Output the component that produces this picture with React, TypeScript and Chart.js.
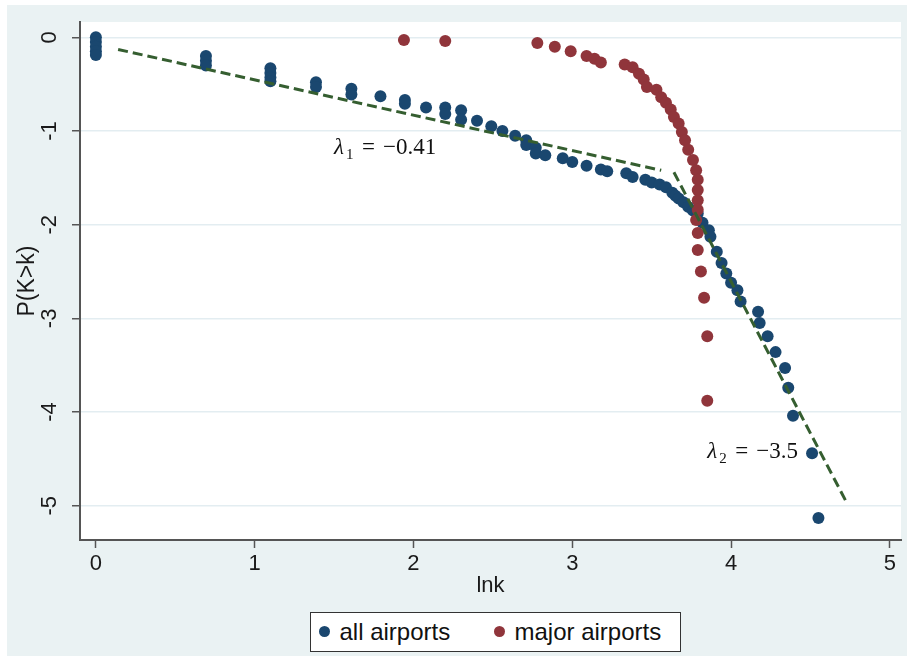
import React, { useEffect, useRef } from 'react';
import { Chart, registerables } from 'chart.js';

Chart.register(...registerables);

// ---- data ----
const seriesNames = ['all airports', 'major airports'];

const allAirportsX = [
  0, 0, 0, 0, 0, 0.693, 0.693, 0.693, 1.099, 1.099, 1.099, 1.099, 1.386, 1.386, 1.609, 1.609, 1.792, 1.946, 1.946, 2.079,
  2.2, 2.2, 2.3, 2.3, 2.4, 2.49, 2.56, 2.64, 2.71, 2.71, 2.77, 2.77,
  2.83, 2.94, 3.0, 3.09, 3.18, 3.22, 3.34, 3.38, 3.46, 3.5,
  3.55, 3.59, 3.63, 3.65, 3.67, 3.7, 3.73, 3.76, 3.79, 3.82, 3.86,
  3.87, 3.91, 3.94, 3.97, 4.0, 4.04, 4.06,
  4.17, 4.18, 4.23, 4.28, 4.34, 4.36, 4.39, 4.51, 4.55,
];
const allAirportsY = [
  0, -0.05, -0.1, -0.15, -0.19, -0.2, -0.25, -0.3, -0.33, -0.38, -0.43, -0.47, -0.48, -0.53, -0.55, -0.61, -0.63, -0.67, -0.71, -0.75,
  -0.75, -0.82, -0.78, -0.88, -0.89, -0.95, -1.0, -1.05, -1.1, -1.15, -1.18, -1.24,
  -1.26, -1.29, -1.33, -1.37, -1.41, -1.43, -1.45, -1.49, -1.52, -1.55,
  -1.57, -1.6, -1.66, -1.69, -1.72, -1.76, -1.81, -1.85, -1.88, -1.98, -2.06,
  -2.13, -2.29, -2.41, -2.52, -2.62, -2.7, -2.82,
  -2.93, -3.05, -3.19, -3.36, -3.53, -3.74, -4.04, -4.44, -5.13,
];

const majorAirportsX = [
  1.94, 2.2, 2.78, 2.89, 2.99, 3.09, 3.14, 3.18, 3.33, 3.38,
  3.42, 3.45, 3.47, 3.53, 3.56, 3.59, 3.62, 3.64, 3.67, 3.69,
  3.71, 3.73, 3.76, 3.78, 3.79, 3.79, 3.79, 3.79, 3.78, 3.79,
  3.79, 3.81, 3.83, 3.85, 3.85,
];
const majorAirportsY = [
  -0.03, -0.04, -0.06, -0.1, -0.15, -0.2, -0.23, -0.27, -0.29, -0.32,
  -0.39, -0.45, -0.53, -0.56, -0.64, -0.7, -0.77, -0.85, -0.92, -1.01,
  -1.1, -1.2, -1.31, -1.42, -1.52, -1.63, -1.74, -1.84, -1.95, -2.09,
  -2.27, -2.5, -2.78, -3.19, -3.88,
];

const fit1X = [0.14, 3.56];
const fit1Y = [-0.13, -1.42];
const fit2X = [3.64, 4.72];
const fit2Y = [-1.44, -4.94];

const annotationTexts = [
  { sym: 'λ', sub: '1', value: '−0.41', x: 1.5, y: -1.245 },
  { sym: 'λ', sub: '2', value: '−3.5', x: 3.85, y: -4.49 },
];

const xTitle = 'lnk';
const yTitle = 'P(K>k)';

// ---- styles ----
const BLUE = '#1a476f';
const RED = '#90353b';
const GREEN = '#355e30';
const AXIS = '#555555';
const GRID = '#e3edf1';
const OUTER_BG = '#eaf2f3';
const TEXT = '#1a1a1a';
const SANS = '"Liberation Sans", Arial, sans-serif';
const SERIF = '"Liberation Serif", "Times New Roman", serif';

const toPoints = (xs: number[], ys: number[]) => xs.map((x, i) => ({ x, y: ys[i] }));

export default function App() {
  const canvasRef = useRef<HTMLCanvasElement>(null);

  useEffect(() => {
    const canvas = canvasRef.current;
    if (!canvas) return;
    Chart.defaults.font.family = SANS;
    Chart.defaults.color = TEXT;

    const bgPlugin = {
      id: 'bgPlugin',
      beforeDraw(chart: any) {
        const { ctx, width, height, chartArea } = chart;
        ctx.save();
        ctx.fillStyle = '#ffffff';
        ctx.fillRect(0, 0, width, height);
        ctx.fillStyle = OUTER_BG;
        ctx.fillRect(7, 5, width - 7, height - 5);
        ctx.fillStyle = '#ffffff';
        ctx.fillRect(chartArea.left, chartArea.top, chartArea.right - chartArea.left, chartArea.bottom - chartArea.top);
        ctx.restore();
      },
    };

    const annotPlugin = {
      id: 'annotPlugin',
      afterDatasetsDraw(chart: any) {
        const { ctx, scales } = chart;
        annotationTexts.forEach((a) => {
          const px = scales.x.getPixelForValue(a.x);
          const py = scales.y.getPixelForValue(a.y);
          ctx.save();
          ctx.fillStyle = '#111111';
          ctx.textAlign = 'left';
          ctx.textBaseline = 'alphabetic';
          ctx.font = `italic 23px ${SERIF}`;
          ctx.fillText(a.sym, px, py);
          ctx.font = `15px ${SERIF}`;
          ctx.fillText(a.sub, px + 12, py + 5);
          ctx.font = `23px ${SERIF}`;
          ctx.fillText('=', px + 28, py);
          ctx.fillText(a.value, px + 49, py);
          ctx.restore();
        });
      },
    };

    const chart = new Chart(canvas, {
      type: 'scatter',
      data: {
        datasets: [
          {
            label: 'fit1',
            data: toPoints(fit1X, fit1Y),
            showLine: true,
            pointRadius: 0,
            borderColor: GREEN,
            borderWidth: 3,
            borderDash: [10, 5],
            order: 0,
          },
          {
            label: 'fit2',
            data: toPoints(fit2X, fit2Y),
            showLine: true,
            pointRadius: 0,
            borderColor: GREEN,
            borderWidth: 3,
            borderDash: [10, 5],
            order: 0,
          },
          {
            label: seriesNames[1],
            data: toPoints(majorAirportsX, majorAirportsY),
            backgroundColor: RED,
            borderColor: RED,
            borderWidth: 0,
            pointRadius: 6,
            order: 1,
          },
          {
            label: seriesNames[0],
            data: toPoints(allAirportsX, allAirportsY),
            backgroundColor: BLUE,
            borderColor: BLUE,
            borderWidth: 0,
            pointRadius: 6,
            order: 2,
          },
        ],
      },
      options: {
        animation: false,
        responsive: false,
        devicePixelRatio: 1,
        layout: { padding: { top: 22, right: 0, bottom: 0, left: 0 } },
        plugins: {
          legend: { display: false },
          tooltip: { enabled: false },
        },
        scales: {
          x: {
            type: 'linear',
            min: -0.1,
            max: 5.07,
            afterFit: (s: any) => {
              s.height = 116;
            },
            ticks: {
              stepSize: 1,
              includeBounds: false,
              maxRotation: 0,
              padding: 3,
              font: { size: 22 },
              color: TEXT,
            },
            grid: {
              drawOnChartArea: false,
              tickLength: 8,
              tickColor: AXIS,
              tickWidth: 1.5,
            },
            border: { color: AXIS, width: 2 },
            title: {
              display: true,
              text: xTitle,
              font: { size: 22 },
              color: TEXT,
              padding: { top: 0, bottom: 57 },
            },
          },
          y: {
            type: 'linear',
            min: -5.365,
            max: 0.163,
            afterFit: (s: any) => {
              s.width = 80;
              s.paddingTop = 0;
              s.paddingBottom = 0;
            },
            ticks: {
              stepSize: 1,
              includeBounds: false,
              minRotation: 90,
              maxRotation: 90,
              crossAlign: 'center',
              padding: 12,
              font: { size: 22 },
              color: TEXT,
            },
            grid: {
              color: GRID,
              lineWidth: 1.5,
              tickLength: 8,
              tickColor: AXIS,
              tickWidth: 1.5,
            },
            border: { color: AXIS, width: 2 },
            title: {
              display: true,
              text: yTitle,
              font: { size: 23 },
              color: TEXT,
              padding: { top: 14, bottom: 0 },
            },
          },
        },
      },
      plugins: [bgPlugin, annotPlugin],
    } as any);

    return () => {
      chart.destroy();
    };
  }, []);

  const legendColors = [BLUE, RED];
  const dotLefts = [8, 183];
  const textLefts = [28.5, 203.5];

  return (
    <div style={{ position: 'absolute', left: 0, top: 0, width: 907, height: 656 }}>
      <canvas ref={canvasRef} width={907} height={656} style={{ display: 'block', width: 907, height: 656 }} />
      <div
        style={{
          position: 'absolute',
          left: 310,
          top: 612,
          width: 371,
          height: 40,
          boxSizing: 'border-box',
          border: '1.5px solid #333333',
          background: '#ffffff',
          fontFamily: SANS,
          fontSize: 24,
          color: '#111111',
        }}
      >
        {seriesNames.map((name, i) => (
          <React.Fragment key={name}>
            <span
              style={{
                position: 'absolute',
                left: dotLefts[i],
                top: 13,
                width: 11,
                height: 11,
                borderRadius: '50%',
                background: legendColors[i],
              }}
            />
            <span
              style={{
                position: 'absolute',
                left: textLefts[i],
                top: 0,
                lineHeight: '37px',
                whiteSpace: 'nowrap',
              }}
            >
              {name}
            </span>
          </React.Fragment>
        ))}
      </div>
    </div>
  );
}
